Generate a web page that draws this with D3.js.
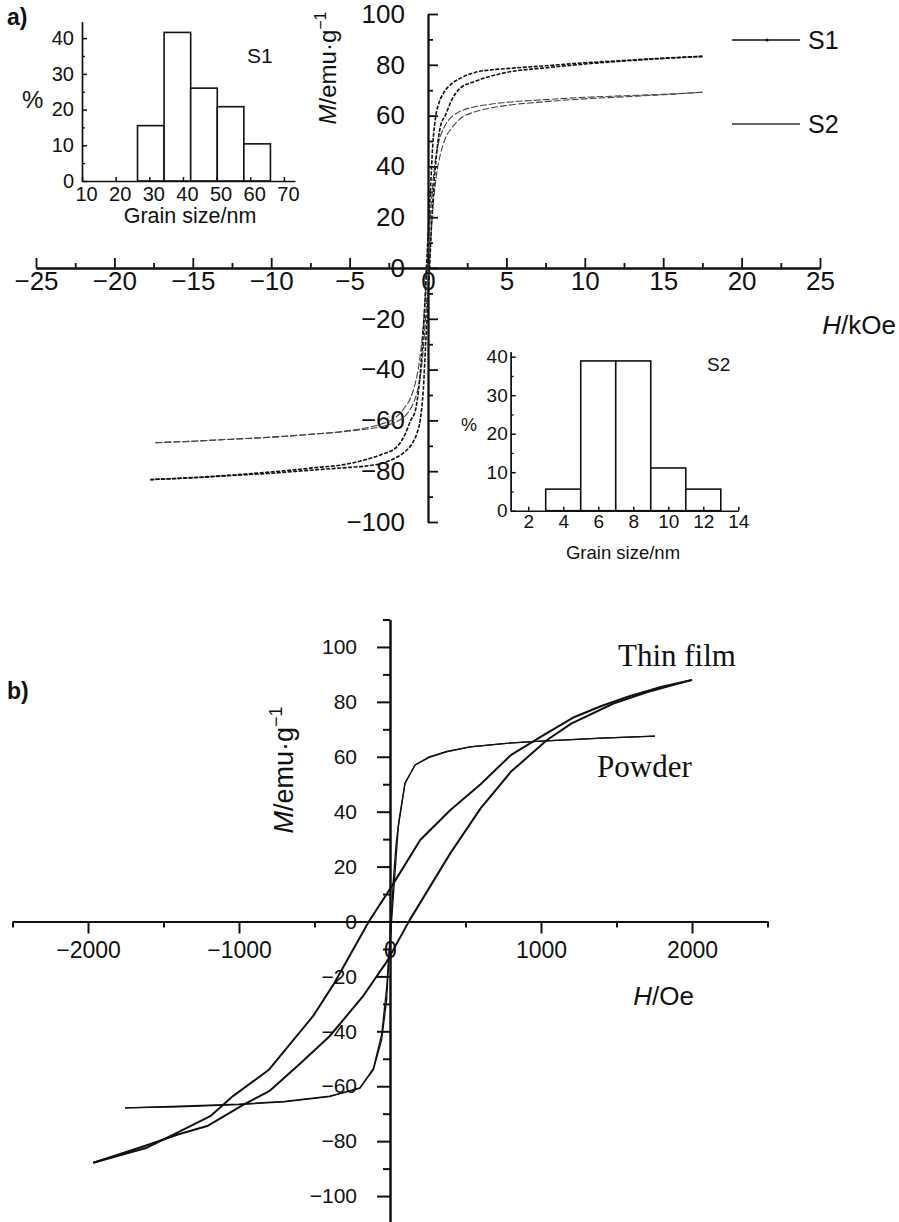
<!DOCTYPE html>
<html>
<head>
<meta charset="utf-8">
<script src="https://cdn.jsdelivr.net/npm/d3@7"></script>
<style>
body { margin: 0; background: #fff; }
svg text { font-family: "Liberation Sans", Arial, sans-serif; fill: #111; }
</style>
</head>
<body>
<div id="chart"></div>
<script>
// ---- panel a : hysteresis loops (H in kOe, M in emu/g) ----
var s1DownH = [17.5, 15, 12.5, 10, 7.5, 5, 4, 3, 2, 1.5, 1, 0.7, 0.5, 0.3, 0.15, 0, -0.1, -0.2, -0.35, -0.55, -0.8, -1.1, -1.5, -2, -3, -4, -5, -7.5, -10, -12.5, -15, -17.7];
var s1DownM = [83.3, 82.6, 81.7, 80.8, 79.6, 78.5, 78, 77, 74.5, 72.5, 69, 65, 60, 48, 30, 12, 0, -14, -30, -45, -56, -60, -66, -70.5, -73.5, -75.5, -77, -78.8, -80.3, -81.5, -82.5, -83.3];
var s1UpH = [-17.7, -15, -12.5, -10, -7.5, -5, -4, -3, -2, -1.5, -1, -0.7, -0.5, -0.3, -0.15, 0, 0.1, 0.2, 0.35, 0.55, 0.8, 1.1, 1.5, 2, 3, 4, 5, 7.5, 10, 12.5, 15, 17.5];
var s1UpM = [-83.3, -82.6, -81.7, -80.8, -79.6, -78.5, -78, -77, -74.5, -72.5, -69, -65, -60, -48, -30, -12, 0, 14, 30, 45, 56, 60, 66, 70.5, 73.5, 75.5, 77, 78.8, 80.3, 81.5, 82.5, 83.3];

var s2DownH = [17.5, 15, 12.5, 10, 7.5, 5, 4, 3, 2, 1.5, 1, 0.7, 0.5, 0.3, 0.15, 0, -0.1, -0.2, -0.35, -0.55, -0.8, -1.1, -1.5, -2, -3, -4, -5, -7.5, -10, -12.5, -15, -17.4];
var s2DownM = [69.2, 68.4, 67.8, 67.2, 66.3, 65.2, 64.5, 63.5, 61.5, 59.5, 55, 50, 44, 33, 20, 6, -4, -14, -26, -37, -45, -51, -55, -58.5, -61.5, -63, -64, -65.5, -66.6, -67.4, -68.2, -68.8];
var s2UpH = [-17.4, -15, -12.5, -10, -7.5, -5, -4, -3, -2, -1.5, -1, -0.7, -0.5, -0.3, -0.15, 0, 0.1, 0.2, 0.35, 0.55, 0.8, 1.1, 1.5, 2, 3, 4, 5, 7.5, 10, 12.5, 15, 17.5];
var s2UpM = [-68.8, -68.2, -67.4, -66.6, -65.5, -64.2, -63.5, -62.5, -60.5, -58.5, -54, -49, -43, -32, -19, -5, 4, 14, 26, 37, 45, 51, 55, 58.5, 61.5, 63, 64, 65.5, 66.6, 67.4, 68.2, 69.2];

var aXTicks = [-25, -20, -15, -10, -5, 0, 5, 10, 15, 20, 25];
var aXMinor = [-22.5, -17.5, -12.5, -7.5, -2.5, 2.5, 7.5, 12.5, 17.5, 22.5];
var aYTicks = [-100, -80, -60, -40, -20, 0, 20, 40, 60, 80, 100];
var aYMinor = [-90, -70, -50, -30, -10, 10, 30, 50, 70, 90];

// ---- insets : grain size histograms ----
var s1Edges = [26.5, 34.4, 42.3, 50.2, 58.1, 66];
var s1Pct = [15.5, 41.6, 26, 20.8, 10.4];
var s1XTicks = [10, 20, 30, 40, 50, 60, 70];
var s1YTicks = [0, 10, 20, 30, 40];
var s1YMinor = [5, 15, 25, 35];

var s2Edges = [3, 5, 7, 9, 11, 13];
var s2Pct = [5.6, 38.9, 38.9, 11.1, 5.6];
var s2XTicks = [2, 4, 6, 8, 10, 12, 14];
var s2YTicks = [0, 10, 20, 30, 40];
var s2YMinor = [5, 15, 25, 35];

// ---- panel b : thin film vs powder (H in Oe) ----
var filmDownH = [2000, 1800, 1580, 1400, 1210, 1000, 800, 600, 400, 200, 10, -140, -375, -510, -800, -1040, -1190, -1435, -1610, -1965];
var filmDownM = [88, 85.5, 82, 78.5, 74.2, 67.3, 60.6, 50, 40.6, 29.7, 12.7, 0, -23, -34.5, -53.9, -63.6, -70.9, -77.6, -82.4, -87.9];
var filmUpH = [-1965, -1610, -1400, -1210, -970, -800, -600, -400, -180, -20, 130, 400, 600, 800, 1040, 1200, 1480, 1700, 2000];
var filmUpM = [-87.9, -81.5, -77.5, -74.5, -66.7, -61.8, -52, -41.8, -27.3, -14.5, 0.5, 24.9, 41.2, 54.5, 66.1, 72.1, 79.4, 83.5, 88];

var powderDownH = [1755, 1400, 1000, 770, 530, 375, 260, 166, 99, 55, 33, 11, 0, -10, -22, -55, -110, -200, -400, -700, -1000, -1400, -1755];
var powderDownM = [67.5, 66.8, 65.7, 64.9, 63.6, 61.8, 59.8, 57, 50.3, 34.5, 17.6, 0.6, -8, -16, -28.5, -43, -54, -60.6, -63.8, -65.7, -66.7, -67.5, -67.9];
var powderUpH = [-1755, -1400, -1000, -700, -400, -200, -110, -55, -22, 0, 10, 22, 40, 60, 100, 166, 260, 375, 530, 770, 1000, 1400, 1755];
var powderUpM = [-67.9, -67.3, -66.5, -65.5, -63.6, -60.8, -53.5, -41, -24, -6, 3, 15, 28, 37, 50.5, 57, 60, 62, 63.6, 64.9, 65.7, 66.8, 67.5];

var bXTicks = [-2000, -1000, 0, 1000, 2000];
var bXMinor = [-2500, -1500, -500, 500, 1500, 2500];
var bYTicks = [-100, -80, -60, -40, -20, 0, 20, 40, 60, 80, 100];
var bYMinor = [-110, -90, -70, -50, -30, -10, 10, 30, 50, 70, 90, 110];

var width = 899, height = 1222;
var fmtDash = d => d < 0 ? "\u2212" + Math.abs(d) : String(d);

var svg = d3.select("#chart").append("svg")
    .attr("width", width)
    .attr("height", height)
    .attr("viewBox", [0, 0, width, height]);

svg.append("rect").attr("width", width).attr("height", height).attr("fill", "#fff");

// styles an axis group made by d3.axis*
function dress(g, sw, fs) {
    g.attr("font-family", "Liberation Sans, Arial, sans-serif").attr("font-size", fs);
    g.select(".domain").attr("stroke", "#111").attr("stroke-width", sw);
    g.selectAll(".tick line").attr("stroke", "#111").attr("stroke-width", sw);
    g.selectAll(".tick text").attr("fill", "#111");
}

// =============== panel a ===============
var xA = d3.scaleLinear().domain([-25, 25]).range([36, 820]);
var yA = d3.scaleLinear().domain([-100, 100]).range([522, 14]);

svg.append("g")
    .attr("transform", `translate(0,${yA(0)})`)
    .call(d3.axisBottom(xA).tickValues(aXMinor).tickSize(-5).tickSizeOuter(0).tickFormat(""))
    .call(g => dress(g, 1.8, 26));
svg.append("g")
    .attr("transform", `translate(0,${yA(0)})`)
    .call(d3.axisBottom(xA).tickValues(aXTicks).tickSize(-10).tickSizeOuter(0).tickPadding(4).tickFormat(fmtDash))
    .call(g => dress(g, 1.8, 26));

svg.append("g")
    .attr("transform", `translate(${xA(0)},0)`)
    .call(d3.axisLeft(yA).tickValues(aYMinor).tickSize(-5).tickSizeOuter(0).tickFormat(""))
    .call(g => dress(g, 1.8, 26));
svg.append("g")
    .attr("transform", `translate(${xA(0)},0)`)
    .call(d3.axisLeft(yA).tickValues(aYTicks).tickSize(-10).tickSizeOuter(0).tickPadding(23).tickFormat(fmtDash))
    .call(g => dress(g, 1.8, 26));

var lineA = d3.line().x(d => xA(d[0])).y(d => yA(d[1])).curve(d3.curveMonotoneX);

var loopsA = [
    {pts: d3.zip(s2DownH, s2DownM), s: "#444", w: 1.1, dash: "7 2"},
    {pts: d3.zip(s2UpH, s2UpM), s: "#444", w: 1.1, dash: "7 2"},
    {pts: d3.zip(s1DownH, s1DownM), s: "#111", w: 1.6, dash: "4 1.5"},
    {pts: d3.zip(s1UpH, s1UpM), s: "#111", w: 1.6, dash: "4 1.5"}
];
svg.append("g")
    .selectAll("path")
    .data(loopsA)
    .join("path")
      .attr("d", d => lineA(d.pts))
      .attr("fill", "none")
      .attr("stroke", d => d.s)
      .attr("stroke-width", d => d.w)
      .attr("stroke-dasharray", d => d.dash);

// legend
var legend = [{name: "S1", y: 40, s: "#111", dot: true}, {name: "S2", y: 124, s: "#333", dot: false}];
var lg = svg.append("g").selectAll("g").data(legend).join("g");
lg.append("line").attr("x1", 732).attr("x2", 800).attr("y1", d => d.y).attr("y2", d => d.y)
    .attr("stroke", d => d.s).attr("stroke-width", 1.3);
lg.filter(d => d.dot).append("circle").attr("cx", 767).attr("cy", d => d.y).attr("r", 1.6).attr("fill", "#111");
lg.append("text").attr("x", 808).attr("y", d => d.y + 9).attr("font-size", 25).text(d => d.name);

svg.append("text").attr("x", 896).attr("y", 334).attr("text-anchor", "end").attr("font-size", 26)
    .call(t => { t.append("tspan").attr("font-style", "italic").text("H"); t.append("tspan").text("/kOe"); });

svg.append("text").attr("transform", "translate(336,68) rotate(-90)").attr("text-anchor", "middle").attr("font-size", 24)
    .call(t => {
        t.append("tspan").attr("font-style", "italic").text("M");
        t.append("tspan").text("/emu\u00b7g");
        t.append("tspan").attr("font-size", 16).attr("dy", -10).text("\u22121");
    });

svg.append("text").attr("x", 7).attr("y", 25).attr("font-size", 23).attr("font-weight", "bold").text("a)");

// inset histograms
function histogram(o) {
    var x = d3.scaleLinear().domain(o.xDom).range(o.xRange);
    var y = d3.scaleLinear().domain(o.yDom).range(o.yRange);
    var g = svg.append("g");
    var bins = o.pct.map((v, i) => ({x0: o.edges[i], x1: o.edges[i + 1], v: v}));
    g.append("g")
        .selectAll("rect")
        .data(bins)
        .join("rect")
          .attr("x", d => x(d.x0))
          .attr("y", d => y(d.v))
          .attr("width", d => x(d.x1) - x(d.x0))
          .attr("height", d => y(0) - y(d.v))
          .attr("fill", "#fff")
          .attr("stroke", "#111")
          .attr("stroke-width", 1.6);
    g.append("g").attr("transform", `translate(0,${y(0)})`)
        .call(d3.axisBottom(x).tickValues(o.xTicks).tickSize(-4).tickSizeOuter(0).tickPadding(o.xPad))
        .call(a => dress(a, 1.5, o.fs))
        .call(a => a.selectAll(".tick text").attr("dx", o.xDx));
    g.append("g").attr("transform", `translate(${x(o.xDom[0])},0)`)
        .call(d3.axisLeft(y).tickValues(o.yMinor).tickSize(-3).tickSizeOuter(0).tickFormat(""))
        .call(a => dress(a, 1.3, o.fs));
    g.append("g").attr("transform", `translate(${x(o.xDom[0])},0)`)
        .call(d3.axisLeft(y).tickValues(o.yTicks).tickSize(-5).tickSizeOuter(0).tickPadding(o.yPad))
        .call(a => dress(a, 1.5, o.fs));
    g.append("text").attr("x", o.pctAt[0]).attr("y", o.pctAt[1]).attr("font-size", o.pctFs).text("%");
    g.append("text").attr("x", o.tagAt[0]).attr("y", o.tagAt[1]).attr("font-size", o.tagFs).text(o.tag);
    g.append("text").attr("x", o.titleAt[0]).attr("y", o.titleAt[1]).attr("text-anchor", "middle")
        .attr("font-size", o.titleFs).text("Grain size/nm");
}

histogram({
    edges: s1Edges, pct: s1Pct, xTicks: s1XTicks, yTicks: s1YTicks, yMinor: s1YMinor,
    xDom: [10, 73.3], xRange: [82, 295], yDom: [0, 44.6], yRange: [181, 21.7],
    fs: 20, xPad: 6, xDx: 4, yPad: 8, pctAt: [22, 108], pctFs: 24, tagAt: [247, 63], tagFs: 21,
    tag: "S1", titleAt: [190, 223], titleFs: 21.5
});
histogram({
    edges: s2Edges, pct: s2Pct, xTicks: s2XTicks, yTicks: s2YTicks, yMinor: s2YMinor,
    xDom: [1, 14], xRange: [510.7, 738.3], yDom: [0, 41.3], yRange: [510.7, 351.7],
    fs: 19, xPad: 4, xDx: 0, yPad: 3, pctAt: [461, 431], pctFs: 18, tagAt: [707, 371], tagFs: 19,
    tag: "S2", titleAt: [623, 559], titleFs: 18.5
});

// =============== panel b ===============
var xB = d3.scaleLinear().domain([-2500, 2500]).range([12.5, 767.5]);
var yB = d3.scaleLinear().domain([-110, 110]).range([1223.5, 619.5]);

svg.append("g")
    .attr("transform", `translate(0,${yB(0)})`)
    .call(d3.axisBottom(xB).tickValues(bXMinor).tickSize(6).tickSizeOuter(0).tickFormat(""))
    .call(g => dress(g, 2, 23));
svg.append("g")
    .attr("transform", `translate(0,${yB(0)})`)
    .call(d3.axisBottom(xB).tickValues(bXTicks).tickSize(12).tickSizeOuter(0).tickPadding(8).tickFormat(fmtDash))
    .call(g => dress(g, 2, 23));

svg.append("g")
    .attr("transform", `translate(${xB(0)},0)`)
    .call(d3.axisLeft(yB).tickValues(bYMinor).tickSize(7).tickSizeOuter(0).tickFormat(""))
    .call(g => dress(g, 2, 21));
svg.append("g")
    .attr("transform", `translate(${xB(0)},0)`)
    .call(d3.axisLeft(yB).tickValues(bYTicks).tickSize(13).tickSizeOuter(0).tickPadding(20).tickFormat(fmtDash))
    .call(g => dress(g, 2, 21));

var lineB = d3.line().x(d => xB(d[0])).y(d => yB(d[1]));

var loopsB = [
    {pts: d3.zip(powderDownH, powderDownM), w: 1.3},
    {pts: d3.zip(powderUpH, powderUpM), w: 1.3},
    {pts: d3.zip(filmDownH, filmDownM), w: 2},
    {pts: d3.zip(filmUpH, filmUpM), w: 2}
];
svg.append("g")
    .selectAll("path")
    .data(loopsB)
    .join("path")
      .attr("d", d => lineB(d.pts))
      .attr("fill", "none")
      .attr("stroke", "#111")
      .attr("stroke-width", d => d.w)
      .attr("stroke-linejoin", "round");

svg.append("text").attr("x", 618).attr("y", 666).attr("font-size", 31)
    .style("font-family", "'Liberation Serif', 'Times New Roman', serif").text("Thin film");
svg.append("text").attr("x", 597).attr("y", 777).attr("font-size", 31)
    .style("font-family", "'Liberation Serif', 'Times New Roman', serif").text("Powder");

svg.append("text").attr("x", 694).attr("y", 1005).attr("text-anchor", "end").attr("font-size", 26)
    .call(t => { t.append("tspan").attr("font-style", "italic").text("H"); t.append("tspan").text("/Oe"); });

svg.append("text").attr("transform", "translate(293,770) rotate(-90)").attr("text-anchor", "middle").attr("font-size", 27)
    .call(t => {
        t.append("tspan").attr("font-style", "italic").text("M");
        t.append("tspan").text("/emu\u00b7g");
        t.append("tspan").attr("font-size", 18).attr("dy", -11).text("\u22121");
    });

svg.append("text").attr("x", 7).attr("y", 699).attr("font-size", 23).attr("font-weight", "bold").text("b)");
</script>
</body>
</html>
